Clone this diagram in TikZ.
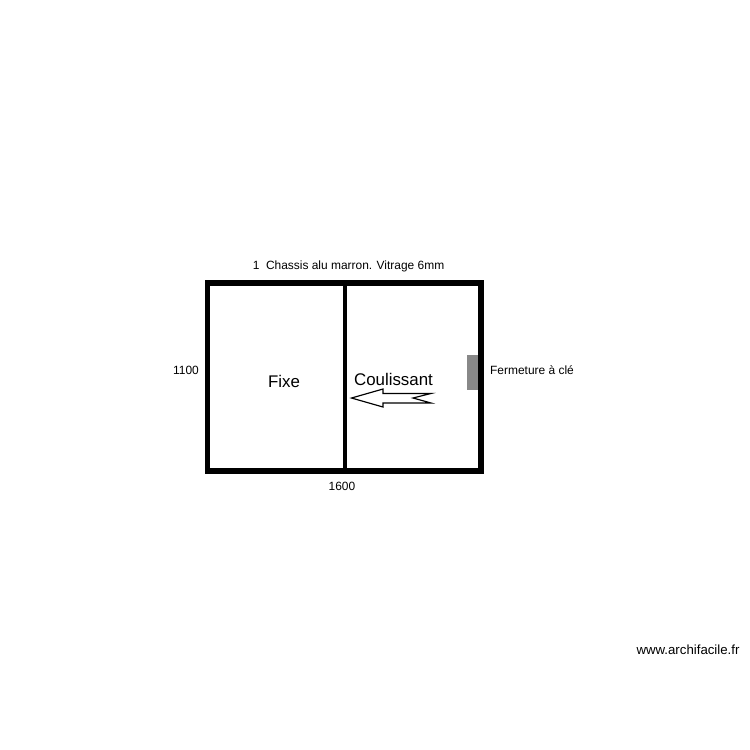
\documentclass[tikz,border=0pt]{standalone}
\usepackage{xcolor}
\usepackage{fontspec}
\setmainfont{Liberation Sans}
\usetikzlibrary{positioning}
\definecolor{serrure}{RGB}{136,136,136}
\tikzset{
    cadre/.style={draw=black, line width=4.4pt, line join=miter},
    petit/.style={font=\fontsize{10.2}{12}\selectfont, inner sep=0pt},
    grand/.style={font=\fontsize{14.4}{16}\selectfont, inner sep=0pt}
}
\begin{document}
\begin{tikzpicture}[x=0.03cm, y=-0.03cm]
    \useasboundingbox (0,0) rectangle (750,750);
    \fill[white] (0,0) rectangle (750,750);

    % Lock
    \fill[serrure] (467,355) rectangle (479,390);

    % Frame
    \draw[cadre] (207.8,283) rectangle (481,471);
    \draw[draw=black, line width=3.1pt] (344.8,283) -- (344.8,471);

    % Arrow
    \draw[black, line width=1pt, line join=miter, fill=white]
        (351.5,398) -- (383,389) -- (383,393.5) -- (431,393.5) -- (413,398)
        -- (431,403) -- (383,403) -- (383,407) -- cycle;

    % Labels
    \node[petit] (titre) at (348.5,266) {1\ \ Chassis alu marron. Vitrage 6mm};
    \node[petit] (hauteur) at (186,370) {1100};
    \node[petit] (largeur) at (342,486) {1600};
    \node[petit] (fermeture) at (532,370) {Fermeture à clé};
    \node[grand] (fixe) at (284,381) {Fixe};
    \node[grand] (coulissant) at (393.5,379) {Coulissant};
    \node[font=\fontsize{11.3}{14}\selectfont, inner sep=0pt] (site) at (688,650) {www.archifacile.fr};
\end{tikzpicture}
\end{document}
